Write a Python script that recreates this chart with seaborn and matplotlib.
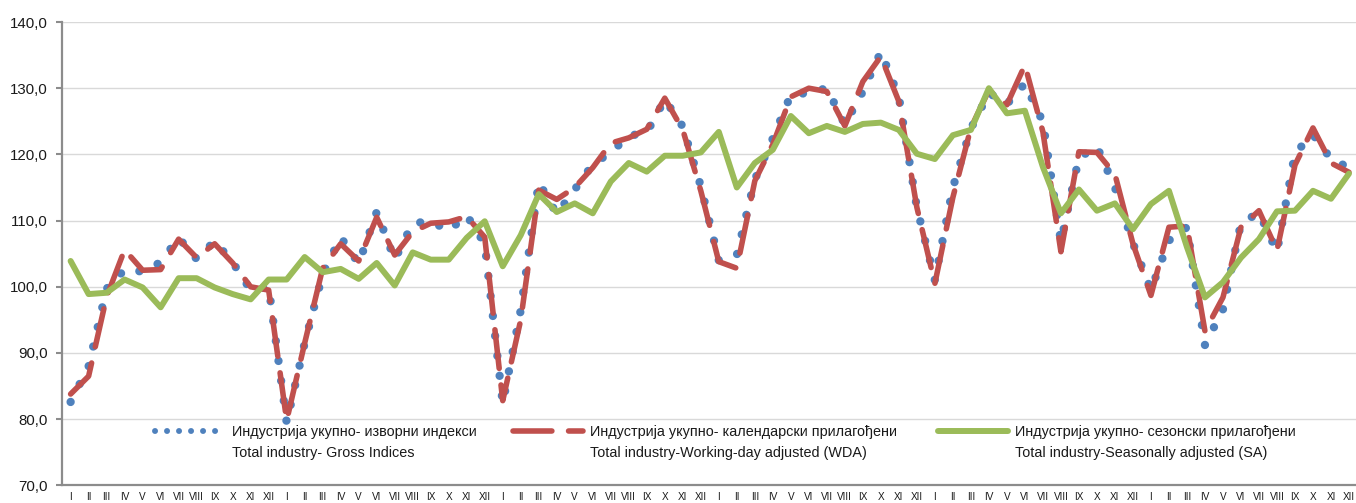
import matplotlib
matplotlib.use("Agg")
import matplotlib.pyplot as plt
import seaborn as sns
import pandas as pd
from matplotlib.lines import Line2D
from matplotlib.ticker import FixedLocator, FixedFormatter

# ---------------- data ----------------
months = ["I", "II", "III", "IV", "V", "VI", "VII", "VIII", "IX", "X", "XI", "XII"]
n_years = 6
month_labels = months * n_years

gross = [82.6, 88.0, 99.7, 102.6, 102.3, 103.7, 107.4, 104.2, 106.9, 103.7, 99.5, 100.0,
         79.5, 91.5, 101.9, 107.5, 103.5, 111.3, 104.1, 109.6, 109.9, 108.5, 110.8, 106.5,
         82.4, 96.5, 115.8, 111.0, 114.7, 118.5, 120.3, 122.8, 123.3, 128.3, 124.2, 115.2,
         104.0, 104.8, 116.2, 122.4, 129.0, 129.3, 130.0, 124.5, 129.5, 135.5, 128.7, 112.0,
         101.0, 115.0, 123.9, 129.3, 127.6, 130.7, 124.9, 106.8, 119.5, 121.2, 115.0, 106.6,
         99.5, 107.0, 109.0, 91.2, 96.6, 109.6, 111.2, 105.3, 120.2, 123.0, 119.3, 118.0]

wda = [83.8, 86.5, 98.5, 105.6, 102.5, 102.6, 107.2, 104.4, 106.5, 103.6, 100.0, 99.5,
       79.8, 91.5, 102.8, 106.5, 103.9, 110.5, 104.8, 108.3, 109.6, 109.8, 110.6, 107.5,
       82.8, 95.0, 114.6, 113.2, 115.0, 118.0, 121.7, 122.5, 123.8, 128.5, 123.7, 114.5,
       103.8, 102.8, 116.0, 121.5, 128.7, 130.0, 129.5, 124.3, 131.0, 134.8, 128.0, 112.0,
       100.5, 113.5, 124.0, 129.7, 127.5, 133.5, 123.4, 105.3, 120.4, 120.3, 117.0, 106.5,
       98.7, 109.0, 109.2, 93.3, 98.4, 109.0, 111.5, 105.5, 118.4, 124.0, 118.7, 117.3]

sa = [103.9, 98.9, 99.1, 101.1, 99.9, 96.9, 101.3, 101.3, 99.9, 98.9, 98.1, 101.1,
      101.1, 104.5, 102.2, 102.7, 101.2, 103.6, 100.2, 105.2, 104.1, 104.1, 107.4, 109.9,
      103.1, 107.8, 114.0, 111.3, 112.6, 111.1, 115.9, 118.7, 117.4, 119.8, 119.8, 120.3,
      123.4, 115.0, 118.7, 120.7, 125.8, 123.2, 124.3, 123.4, 124.6, 124.8, 123.7, 120.1,
      119.3, 122.9, 123.7, 130.0, 126.2, 126.6, 118.1, 111.1, 114.7, 111.5, 112.6, 108.7,
      112.5, 114.5, 106.0, 98.4, 100.7, 104.4, 107.2, 111.4, 111.5, 114.5, 113.3, 117.1]

legend_line1 = ["Индустрија укупно- изворни индекси",
                "Индустрија укупно- календарски прилагођени",
                "Индустрија укупно- сезонски прилагођени"]
legend_line2 = ["Total industry- Gross Indices",
                "Total industry-Working-day adjusted (WDA)",
                "Total industry-Seasonally adjusted (SA)"]

y_ticks = [70, 80, 90, 100, 110, 120, 130, 140]

# ---------------- styling ----------------
BLUE = "#4F81BD"
RED = "#C0504D"
GREEN = "#9BBB59"
AXIS_GRAY = "#8C8C8C"
GRID_GRAY = "#D9D9D9"
TEXT = "#1A1A1A"

sns.set_theme(style="white")
plt.rcParams['font.family'] = ['Liberation Sans', 'DejaVu Sans']

W, H = 1356, 503
fig = plt.figure(figsize=(W / 100, H / 100), dpi=100)
x_left, x_right = 61.6, 1358.0
y_top, y_bot = 22.0, 485.4
ax = fig.add_axes([x_left / W, (H - y_bot) / H, (x_right - x_left) / W, (y_bot - y_top) / H])

df = pd.DataFrame({"idx": list(range(len(gross))), "gross": gross, "wda": wda, "sa": sa})

sns.lineplot(data=df, x="idx", y="gross", ax=ax, color=BLUE, lw=6.0,
             linestyle=(0, (0.01, 2.4)), dash_capstyle='round', zorder=2)
sns.lineplot(data=df, x="idx", y="wda", ax=ax, color=RED, lw=4.0,
             linestyle=(0, (7, 3)), dash_capstyle='round', dash_joinstyle='round', zorder=3)
sns.lineplot(data=df, x="idx", y="sa", ax=ax, color=GREEN, lw=4.3,
             solid_capstyle='round', solid_joinstyle='round', zorder=4)

ax.set_xlim(-0.5, len(gross) - 0.5)
ax.set_ylim(70, 140)
ax.set_xlabel("")
ax.set_ylabel("")

ax.set_yticks(y_ticks)
ax.set_yticklabels([f"{v:.1f}".replace(".", ",") for v in y_ticks])
ax.yaxis.grid(True, color=GRID_GRAY, lw=1.0)
ax.xaxis.grid(False)
ax.set_axisbelow(True)

ax.xaxis.set_major_locator(FixedLocator(list(range(len(month_labels)))))
ax.xaxis.set_major_formatter(FixedFormatter(month_labels))
ax.xaxis.set_minor_locator(FixedLocator([i - 0.5 for i in range(len(month_labels) + 1)]))

ax.tick_params(axis='x', which='major', length=0, pad=5.0, labelsize=7.2, labelcolor=TEXT)
ax.tick_params(axis='x', which='minor', length=16, width=1.1, color="#A6A6A6", direction='out')
ax.tick_params(axis='y', which='major', length=4, width=1.5, color=AXIS_GRAY, pad=6,
               labelsize=10.8, labelcolor=TEXT, left=True)

for s in ["top", "right"]:
    ax.spines[s].set_visible(False)
for s in ["left", "bottom"]:
    ax.spines[s].set_color(AXIS_GRAY)
    ax.spines[s].set_linewidth(1.6)

# ---------------- legend ----------------
handles = [
    Line2D([], [], color=BLUE, lw=4.3, linestyle=(0, (0.01, 2.0)), dash_capstyle='round'),
    Line2D([], [], color=RED, lw=4.0, linestyle=(0, (7, 3)), dash_capstyle='round'),
    Line2D([], [], color=GREEN, lw=4.3, solid_capstyle='round'),
]
leg_x = [155, 513, 938]
leg_y = 432
fs = 10.4
legends = []
for h, lab, lx in zip(handles, legend_line1, leg_x):
    lg = ax.legend([h], [lab], loc='center left',
                   bbox_to_anchor=(lx / W, (H - leg_y) / H), bbox_transform=fig.transFigure,
                   frameon=False, borderpad=0, borderaxespad=0, fontsize=fs,
                   handlelength=70 / (fs * 100 / 72), handletextpad=7 / (fs * 100 / 72))
    for t in lg.get_texts():
        t.set_color(TEXT)
    legends.append(lg)
# keep the last one as the axes legend, add the others as extra artists
for lg in legends[:-1]:
    ax.add_artist(lg)

fig.canvas.draw()
renderer = fig.canvas.get_renderer()
for lg, txt2 in zip(legends, legend_line2):
    bb = lg.get_texts()[0].get_window_extent(renderer)
    x0 = bb.x0
    yc = (bb.y0 + bb.y1) / 2 - 21
    fig.text(x0 / W, yc / H, txt2, ha='left', va='center', fontsize=fs, color=TEXT)

fig.savefig("out.png", dpi=100)
